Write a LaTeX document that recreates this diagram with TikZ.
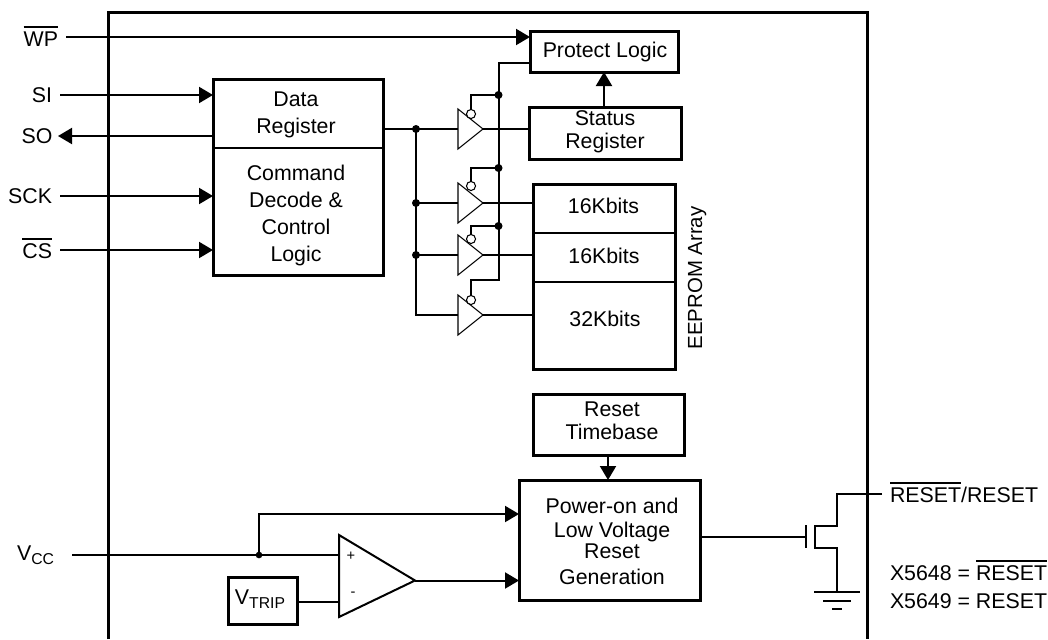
\documentclass[tikz,border=0pt]{standalone}
\usepackage{fontspec}
\setmainfont{Liberation Sans}
\usetikzlibrary{arrows.meta,calc}
\newsavebox\ovlbox
\newcommand\ovl[1]{\sbox\ovlbox{#1}\rlap{\rule[0.86em]{\wd\ovlbox}{1.05pt}}\usebox\ovlbox}
\newcommand\subs[1]{\raisebox{-0.23em}{\fontsize{11.8}{12}\selectfont #1}}
\tikzset{
  x=0.75pt,y=-0.75pt,
  every node/.style={inner sep=0pt,outer sep=0pt,font=\fontsize{16}{18}\selectfont,text=black},
  conn/.style={line width=1.5pt,draw=black},
  arr/.style={conn,-{Triangle[length=10.5pt,width=12pt]}},
  thick box/.style={draw=black,line width=2.25pt},
  lbl/.style={anchor=base},
  dot/.style={circle,fill=black,minimum size=6pt},
  bubble/.style={circle,draw=black,line width=0.8pt,fill=white,minimum size=6.8pt},
  tri/.style={draw=black,line width=0.8pt,line join=miter},
  gnd/.style={line width=1.5pt,draw=black},
}
% name, x1, y1, x2, y2
\newcommand\rbox[5]{\node[thick box,minimum width={(#4-#2)*0.75pt},minimum height={(#5-#3)*0.75pt}] (#1) at ({(#2+#4)/2},{(#3+#5)/2}) {};}
% buffer: id, y centre, stem y, bubble y
\newcommand\buffer[4]{%
  \coordinate (#1i) at (458,#2);
  \coordinate (#1o) at (483,#2);
  \draw[tri,fill=white] (458,#2-20) -- (#1o) -- (458,#2+20) -- cycle;
  \node[bubble] (#1n) at (471,#4) {};
  \coordinate (#1s) at (471,#3);
}
\begin{document}
\begin{tikzpicture}
\useasboundingbox (0,0) rectangle (1048,639);
% chip outline
\coordinate (fa) at (108,639);
\coordinate (fb) at (108,12);
\coordinate (fc) at (867,12);
\coordinate (fd) at (867,639);
\draw[thick box,line cap=butt,line join=miter] (fa) -- (fb) -- (fc) -- (fd);

% boxes
\rbox{pl}{530}{31}{678}{72}
\rbox{sr}{529}{107}{681}{159}
\rbox{ee}{533}{184}{675}{369}
\coordinate (ee1l) at (533,233); \coordinate (ee1r) at (675,233);
\coordinate (ee2l) at (533,282); \coordinate (ee2r) at (675,282);
\draw[conn] (ee1l) -- (ee1r);
\draw[conn] (ee2l) -- (ee2r);
\rbox{dr}{213}{79}{383}{275}
\coordinate (dr1) at (213,148); \coordinate (dr2) at (383,148);
\draw[conn] (dr1) -- (dr2);
\rbox{rt}{533}{394}{684}{455}
\rbox{pg}{519}{480}{700}{600}
\rbox{vt}{228}{577}{297}{624}

% box texts
\node[lbl] (tpl) at (605,57) {Protect Logic};
\node[lbl] (ts1) at (605,125) {Status};
\node[lbl] (ts2) at (605,148) {Register};
\node[lbl] (td1) at (296,106) {Data};
\node[lbl] (td2) at (296,133) {Register};
\node[lbl] (tc1) at (296,180) {Command};
\node[lbl] (tc2) at (296,207) {Decode \&};
\node[lbl] (tc3) at (296,234) {Control};
\node[lbl] (tc4) at (296,261) {Logic};
\node[lbl] (te1) at (603.5,213) {16Kbits};
\node[lbl] (te2) at (604,263) {16Kbits};
\node[lbl] (te3) at (605,326) {32Kbits};
\node[rotate=90,font=\fontsize{15.3}{18}\selectfont] (tarr) at (697,278) {EEPROM Array};
\node[lbl] (tr1) at (612,416) {Reset};
\node[lbl] (tr2) at (612,439) {Timebase};
\node[lbl] (tp1) at (612,513) {Power-on and};
\node[lbl] (tp2) at (612,537) {Low Voltage};
\node[lbl] (tp3) at (612,558) {Reset};
\node[lbl] (tp4) at (612,584) {Generation};
\node[lbl] (tv) at (260,604) {V\subs{TRIP}};

% pins
\node[anchor=base east] (wp) at (58,46) {\ovl{WP}};
\node[anchor=base east] (si) at (52,102) {SI};
\node[anchor=base east] (so) at (52.5,143) {SO};
\node[anchor=base east] (sck) at (52,203) {SCK};
\node[anchor=base east] (cs) at (52,258) {\ovl{CS}};
\node[anchor=base east] (vcc) at (54,560) {V\subs{CC}};

\coordinate (wpa) at (66,37);
\coordinate (sia) at (60,95);
\coordinate (soa) at (58,136);
\coordinate (scka) at (60,196);
\coordinate (csa) at (60,250);
\coordinate (vcca) at (72,555);

\draw[arr] (wpa) -- (wpa -| pl.west);
\draw[arr] (sia) -- (sia -| dr.west);
\draw[arr] (scka) -- (scka -| dr.west);
\draw[arr] (csa) -- (csa -| dr.west);
\draw[arr] (soa -| dr.west) -- (soa);

% status to protect
\draw[arr] (604,107) -- (604,72);

% buffers
\buffer{a}{129}{95}{114}
\buffer{b}{203}{168}{186}
\buffer{c}{255}{226}{239}
\buffer{d}{315}{280}{300}

% data bus
\coordinate (busx) at (416,129);
\draw[conn] (dr.east |- ai) -- (ai);
\draw[conn] (busx) -- (busx |- di) -- (di);
\draw[conn] (busx |- bi) -- (bi);
\draw[conn] (busx |- ci) -- (ci);
\node[dot] (d1) at (busx) {};
\node[dot] (d2) at (busx |- bi) {};
\node[dot] (d3) at (busx |- ci) {};

% buffer outputs
\draw[conn] (ao) -- (ao -| sr.west);
\draw[conn] (bo) -- (bo -| ee.west);
\draw[conn] (co) -- (co -| ee.west);
\draw[conn] (do) -- (do -| ee.west);

% enable bus
\coordinate (enx) at (498.5,63);
\draw[conn] (pl.west |- enx) -- (enx) -- (enx |- ds) -- (ds) -- (dn.north);
\draw[conn] (an.north) -- (as) -- (enx |- as);
\draw[conn] (bn.north) -- (bs) -- (enx |- bs);
\draw[conn] (cn.north) -- (cs) -- (enx |- cs);
\node[dot] (e1) at (enx |- as) {};
\node[dot] (e2) at (enx |- bs) {};
\node[dot] (e3) at (enx |- cs) {};

% timebase
\draw[arr] (rt.south -| 608,0) -- (pg.north -| 608,0);

% Vcc and comparator
\coordinate (cmpa) at (339,535);
\coordinate (cmpb) at (415,580.5);
\coordinate (cmpc) at (339,617);
\draw[conn,line join=miter] (cmpa) -- (cmpb) -- (cmpc) -- cycle;
\node (plus) at (351,556) {\fontsize{11}{12}\selectfont +};
\node (minus) at (353,594) {\fontsize{11}{12}\selectfont -};
\coordinate (vin) at (339,555);
\coordinate (vj) at (259,555);
\draw[conn] (vcca) -- (vin);
\node[circle,fill=black,minimum size=5pt] (d4) at (vj) {};
\draw[arr] (vj) -- (259,514) -- (pg.west |- 259,514);
\draw[conn] (vt.east |- 0,602) -- (339,602);
\draw[arr] (cmpb) -- (cmpb -| pg.west);

% transistor
\coordinate (gate) at (805.5,537);
\coordinate (g1) at (805.5,525);
\coordinate (g2) at (805.5,548);
\coordinate (ch1) at (815,526);
\coordinate (ch2) at (815,548);
\coordinate (out) at (882,494);
\coordinate (gnd1) at (837,592);
\draw[conn] (pg.east |- gate) -- (gate);
\draw[conn] (g1) -- (g2);
\draw[conn,line join=miter] (out) -- (837,494) -- (837,526) -- (ch1) -- (ch2) -- (837,548) -- (gnd1);
\coordinate (g3a) at (814,592); \coordinate (g3b) at (860,592);
\coordinate (g4a) at (823,601); \coordinate (g4b) at (851,601);
\coordinate (g5a) at (832,609); \coordinate (g5b) at (842,609);
\draw[gnd] (g3a) -- (g3b);
\draw[gnd] (g4a) -- (g4b);
\draw[gnd] (g5a) -- (g5b);

% right texts
\node[anchor=base west] (rr) at (890,502) {\ovl{RESET}/RESET};
\node[anchor=base west] (r1) at (890,580) {X5648 = \ovl{RESET}};
\node[anchor=base west] (r2) at (890,608) {X5649 = RESET};
\end{tikzpicture}
\end{document}
